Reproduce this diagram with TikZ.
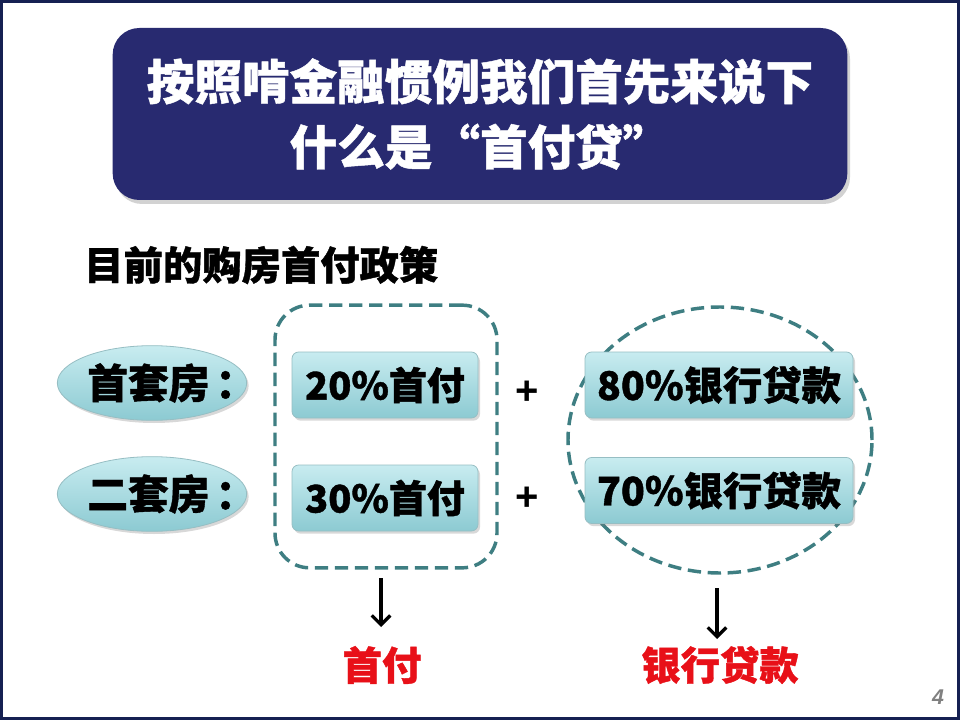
\documentclass[tikz,border=0pt]{standalone}
\usepackage{fontspec}
\newfontfamily\cjk{Noto Sans CJK SC}[BoldFeatures={FakeBold=1}]
\newfontfamily\numfont{Liberation Sans}
\usetikzlibrary{shapes.geometric,shadows,arrows.meta}
\definecolor{navy}{RGB}{40,42,112}
\definecolor{framenavy}{RGB}{22,32,82}
\definecolor{teal}{RGB}{62,126,130}
\definecolor{boxtop}{RGB}{200,236,240}
\definecolor{boxbot}{RGB}{140,202,210}
\definecolor{boxline}{RGB}{150,190,195}
\definecolor{redtext}{RGB}{232,16,24}
\tikzset{
  titlebox/.style={fill=navy, rounded corners=20pt, minimum width=551pt, minimum height=129pt,
    drop shadow={shadow xshift=2pt, shadow yshift=-3pt, opacity=0.35}, inner sep=0pt},
  tealbox/.style={rectangle, rounded corners=5pt, top color=boxtop, bottom color=boxbot,
    draw=boxline, line width=0.6pt, minimum height=49.5pt, inner sep=0pt,
    drop shadow={shadow xshift=1.5pt, shadow yshift=-2pt, opacity=0.3},
    font=\cjk\bfseries\fontsize{28.5}{30}\selectfont},
  tealoval/.style={ellipse, top color=boxtop, bottom color=boxbot, draw=boxline, line width=0.6pt,
    minimum width=142pt, minimum height=56pt, inner sep=0pt,
    drop shadow={shadow xshift=1.5pt, shadow yshift=-2pt, opacity=0.3},
    font=\cjk\bfseries\fontsize{30.5}{31}\selectfont},
  tealdash/.style={draw=teal, line width=2.6pt, dash pattern=on 10pt off 5pt},
  downarrow/.style={line width=2.4pt, -{Straight Barb[length=7pt,width=14pt,line width=2.4pt]}},
  redlabel/.style={text=redtext, font=\cjk\bfseries\fontsize{29.5}{31}\selectfont, inner sep=0pt},
  plussign/.style={font=\numfont\bfseries\fontsize{30}{32}\selectfont, inner sep=0pt}
}
\begin{document}
\begin{tikzpicture}[x=0.75pt,y=-0.75pt]
\useasboundingbox (0,0) rectangle (960,720);
\fill[white] (0,0) rectangle (960,720);
\draw[framenavy, line width=2.4pt] (1.6,1.6) rectangle (958.4,718.4);
% title
\node[titlebox, align=center, text=white, font=\cjk\bfseries\fontsize{35.7}{49}\selectfont] (title) at (480,114)
  {按照啃金融惯例我们首先来说下\\什么是“首付贷”};
% subtitle
\node[anchor=west, inner sep=0pt, font=\cjk\bfseries\fontsize{29.5}{31}\selectfont] (sub) at (84,265) {目前的购房首付政策};
% dashed groups
\node[tealdash, rounded corners=26pt, minimum width=166.5pt, minimum height=197pt] (dbox) at (386,436.5) {};
\node[tealdash, ellipse, minimum width=228pt, minimum height=199.5pt] (dcirc) at (720,440) {};
% ovals
\node[tealoval] (first) at (152,383) {\makebox[3.18em][l]{首套房\hspace{0.15em}：}};
\node[tealoval] (second) at (152,494) {\makebox[3.18em][l]{二套房\hspace{0.15em}：}};
% boxes
\node[tealbox, minimum width=139.5pt] (p20) at (385,385) {20\%首付};
\node[tealbox, minimum width=139.5pt] (p30) at (385,498) {30\%首付};
\node[tealbox, minimum width=201pt, font=\cjk\bfseries\fontsize{29.5}{30}\selectfont] (l80) at (719,385) {80\%银行贷款};
\node[tealbox, minimum width=201pt, font=\cjk\bfseries\fontsize{29.5}{30}\selectfont] (l70) at (719,490.5) {70\%银行贷款};
% plus signs
\node[plussign] (plus1) at (527,393) {+};
\node[plussign] (plus2) at (527,499) {+};
% arrows and labels
\node[redlabel] (lab1) at (382,665) {首付};
\node[redlabel] (lab2) at (720,665) {银行贷款};
\coordinate (a1s) at (381,578);
\coordinate (a1e) at (381,627);
\coordinate (a2s) at (717,588);
\coordinate (a2e) at (717,639);
\draw[downarrow] (a1s) -- (a1e);
\draw[downarrow] (a2s) -- (a2e);
% page number
\node[text=gray, font=\numfont\bfseries\itshape\fontsize{16}{17}\selectfont, inner sep=0pt] (pg) at (938,697) {4};
\end{tikzpicture}
\end{document}
